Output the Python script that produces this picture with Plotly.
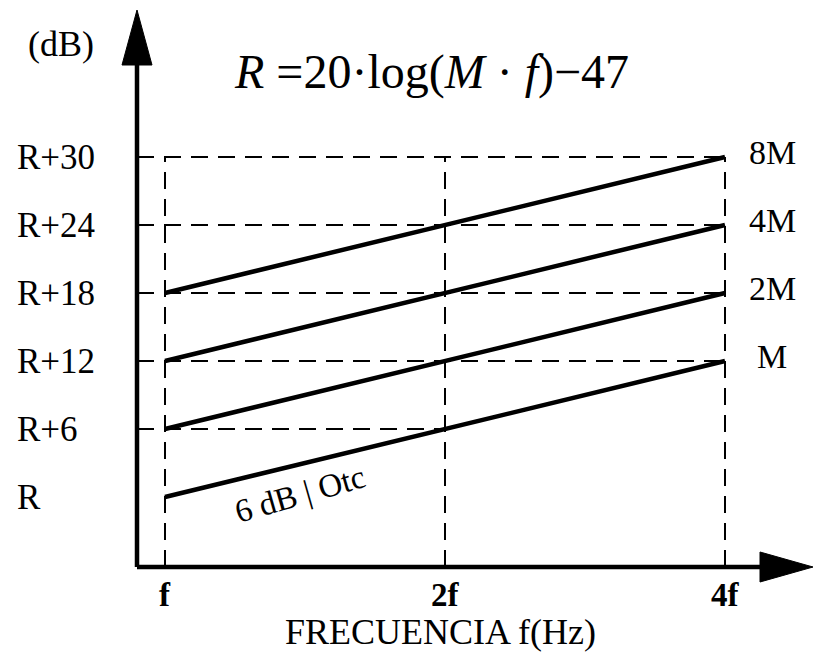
import plotly.graph_objects as go

# Frequency positions in octaves above f, and their labels
octaves = [0, 1, 2]
freq_labels = ["f", "2f", "4f"]

# Level above R (dB) for each mass curve at f, 2f, 4f
series_names = ["M", "2M", "4M", "8M"]
level_M = [0, 6, 12]
level_2M = [6, 12, 18]
level_4M = [12, 18, 24]
level_8M = [18, 24, 30]

# Vertical axis levels and labels
db_levels = [0, 6, 12, 18, 24, 30]
db_labels = ["R", "R+6", "R+12", "R+18", "R+24", "R+30"]

# Dashed guide lines: level and the octave where each stops
guide_levels = [6, 12, 18, 24, 30]
guide_ends = [1, 2, 2, 2, 2]

W, H = 814, 657
ML, MR, MT, MB = 137, 0, 8, 90
PW, PH = W - ML - MR, H - MT - MB

X0, X1 = -0.1, -0.1 + PW / 280.0
Y0 = -70 / (340 / 30.0)
Y1 = Y0 + PH / (340 / 30.0)

FONT = "Liberation Serif, Times New Roman, serif"


def px(xpix):
    return (xpix - ML) / PW


def py(ypix):
    return (H - MB - ypix) / PH


fig = go.Figure()

all_levels = [level_M, level_2M, level_4M, level_8M]
for name, lv in zip(series_names, all_levels):
    fig.add_trace(go.Scatter(
        x=octaves, y=lv, mode="lines", name=name,
        line=dict(color="black", width=4.5), showlegend=False,
        hoverinfo="skip",
    ))

shapes = []
dash = "17px,10px"
# horizontal dashed guides from the axis
for lvl, xe in zip(guide_levels, guide_ends):
    shapes.append(dict(type="line", xref="x", yref="y", x0=X0, x1=xe,
                       y0=lvl, y1=lvl,
                       line=dict(color="black", width=2, dash=dash),
                       layer="below"))
# vertical dashed guides at f, 2f, 4f
for xv in octaves:
    shapes.append(dict(type="line", xref="x", yref="y", x0=xv, x1=xv,
                       y0=Y0, y1=max(db_levels),
                       line=dict(color="black", width=2, dash=dash),
                       layer="below"))

# axes with arrowheads
shapes.append(dict(type="line", xref="paper", yref="paper", x0=0, x1=px(770),
                   y0=0, y1=0, line=dict(color="black", width=4.5)))
shapes.append(dict(type="line", xref="paper", yref="paper", x0=0, x1=0,
                   y0=0, y1=py(60), line=dict(color="black", width=4.5)))
shapes.append(dict(type="path", xref="paper", yref="paper",
                   path=f"M {px(760)} {py(552)} L {px(813)} {py(567)} "
                        f"L {px(760)} {py(582)} Z",
                   fillcolor="black", line=dict(color="black", width=1)))
shapes.append(dict(type="path", xref="paper", yref="paper",
                   path=f"M {px(122)} {py(65)} L {px(137)} {py(10)} "
                        f"L {px(152)} {py(65)} Z",
                   fillcolor="black", line=dict(color="black", width=1)))

ann = []
for lvl, lab in zip(db_levels, db_labels):
    ann.append(dict(x=px(15), xref="paper", y=lvl, yref="y", text=lab,
                    xanchor="left", yanchor="middle", showarrow=False,
                    font=dict(family=FONT, size=35, color="black")))
for xv, lab in zip(octaves, freq_labels):
    ann.append(dict(x=xv, xref="x", y=py(595), yref="paper", text=lab,
                    xanchor="center", yanchor="middle", showarrow=False,
                    font=dict(family=FONT, size=33, color="black",
                              weight="bold")))
for name, lv in zip(series_names, all_levels):
    ann.append(dict(x=px(772), xref="paper", y=lv[-1], yref="y", text=name,
                    xanchor="center", yanchor="middle", yshift=5,
                    showarrow=False,
                    font=dict(family=FONT, size=34, color="black")))

ann.append(dict(x=px(61), xref="paper", y=py(44), yref="paper", text="(dB)",
                xanchor="center", yanchor="middle", showarrow=False,
                font=dict(family=FONT, size=36, color="black")))
ann.append(dict(x=px(431), xref="paper", y=py(72), yref="paper",
                text="<i>R</i> =20·log(<i>M</i> · <i>f</i>)−47",
                xanchor="center", yanchor="middle", showarrow=False,
                font=dict(family=FONT, size=48, color="black")))
ann.append(dict(x=px(440), xref="paper", y=py(632), yref="paper",
                text="FRECUENCIA f(Hz)",
                xanchor="center", yanchor="middle", showarrow=False,
                font=dict(family=FONT, size=36, color="black")))
ann.append(dict(x=px(300), xref="paper", y=py(494), yref="paper",
                text="6 dB | Otc", textangle=-16,
                xanchor="center", yanchor="middle", showarrow=False,
                font=dict(family=FONT, size=33, color="black")))

fig.update_layout(
    width=W, height=H,
    margin=dict(l=ML, r=MR, t=MT, b=MB, pad=0),
    plot_bgcolor="white", paper_bgcolor="white",
    xaxis=dict(range=[X0, X1], visible=False, fixedrange=True),
    yaxis=dict(range=[Y0, Y1], visible=False, fixedrange=True),
    shapes=shapes, annotations=ann,
)

fig.write_html("out.html", config={"displayModeBar": False})
